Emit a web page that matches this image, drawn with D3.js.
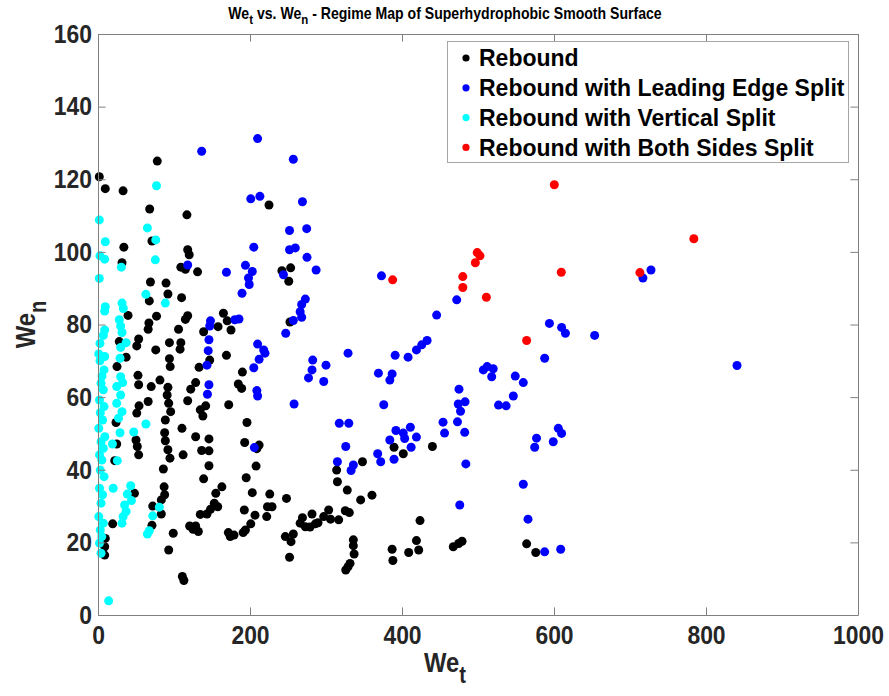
<!DOCTYPE html>
<html>
<head>
<meta charset="utf-8">
<script src="https://cdn.jsdelivr.net/npm/d3@7"></script>
<style>
html,body{margin:0;padding:0;background:#fff;}
svg{display:block;}
</style>
</head>
<body>
<svg id="chart" width="889" height="696"></svg>
<script>
// ---- data (We_t, We_n) ----
const seriesNames = ["Rebound","Rebound with Leading Edge Split","Rebound with Vertical Split","Rebound with Both Sides Split"];
const seriesColors = ["#000000","#0000ff","#00ffff","#ff0000"];
const xTicks = [0,200,400,600,800,1000];
const yTicks = [0,20,40,60,80,100,120,140,160];

const rebound = [
[1.7,120.7],[9.6,117.4],[33,116.8],[78,125],[68,111.8],[71,103],[34,101.3],[31.6,97],[109,95.8],[69,91.7],[89.5,91.4],[92,88.4],[67.5,86.5],[110,87.4],[39.5,82.5],[77,82.3],[67,80.4],[66,78.7],[106,78.7],[53.5,76],[51,74.1],[94,75],[109,75],[108,73.2],[76,73],[28,75.3],[37,71],[94,70.6],[95,68.4],[25,68.4],[52.6,66],[81.5,64.7],
[225,112.9],[117,110.2],[118,100.6],[120,99.2],[115,95.2],[131,94.5],[118,82.4],[115,81.4],[139,78],[165,83.1],[170,81],[158,79.4],[175,78.5],[147,70.2],[169,71.5],[133,68.2],[190,66.9],
[53.5,63.4],[70,62.9],[92,62.7],[91,60.6],[66,58.8],[93,58.3],[54,57.6],[95.6,56],[51,55.6],[23.7,53],[88.6,53.7],[110.5,51.4],[87.7,50.2],[50,48.2],[51.7,46.4],[88.6,48],[92,45.5],[53.5,44.1],[94.7,43.2],[112,44.1],[24.6,47.1],[22,42.5],[86,40.2],[87,35.3],[87.7,33.1],[83.3,31.7],[48,33.5],[72,30],[83.3,27.8],[71,24.7],[19.3,25.1],[99,22.5],[93,17.9],[9.6,21.1],[8.8,18.8],[8.8,16.5],[111,10.6],[113,9.5],
[128.5,64],[122,62.2],[118,59],[184.6,63.6],[189,62.4],[172,57.9],[141.7,57.6],[134.6,56.5],[138,54.8],[196,53],[128.5,49.1],[146,48.5],[136.4,45.3],[146,45.2],[193,47.5],[212,46.8],[209,45.8],[146,41.1],[208,41],[139,37.5],[195,37.8],[163,35.3],[155,33.5],[203,33.7],[226,33.3],[153,30.8],[157.5,29.8],[148,29.1],[143.4,27.8],[134.6,27.7],[192.5,28.9],[206.6,27.5],[223,29.8],[222,27.1],[201,25.1],[194,23.4],[191,22.7],[120.6,24.5],[128.5,24.5],[132,23],[125,23.6],[171.5,22.7],[174,21.6],[179,22],
[242,94.8],[253.5,95.6],[251,91.9],[252.6,80.7],
[389.5,46.2],[348,42.2],[314,39.9],[315,36.7],[328,34.4],[345.6,31.7],[360.5,33],[248,32.1],[229,29.8],[281.6,27.8],[269,26.8],[303.5,28.9],[297,27.1],[306,26.4],[316.7,26.2],[325.4,28.7],[330.7,28.2],[266,25.3],[272.8,24.3],[279,24.2],[286,25.1],[289.5,25.4],[246.5,21.6],[257,22.3],[254,20.2],[252,15.9],[336,20.7],[336,19.1],[337,16.8],[331.6,14.2],[326,12.4],[329,13.3],[387,18.1],[388,15],
[401.7,44.4],[440,46.4],[423.7,26],[419,20.5],[422,17.9],[408.8,17.2],[467.5,18.8],[474.6,19.7],[479,20.3],[564,19.6],[576,17.2]
];

const leadingEdge = [
[136.4,127.7],[210,131.2],[201,114.6],[213,115.3],[205,101.3],[118,96.4],[169,94.4],[194,96.3],[203,94.6],[198,92.8],[199,91],[189.5,88.6],[148,81],[147,79.6],[180,81.3],[185.5,81.5],[146,75.8],[145,72.8],[143.4,68.8],[210,74.6],[218,73],[219.7,72.1],[212,70.4],[205,68.1],
[146,63.4],[144,60.8],[209,61.8],[210,60.3],[205.7,46.1],
[257,125.5],[269,113.8],[252,105.9],[274.6,106.4],[252,100.6],[259.6,101.1],[275,98.5],[287,95],[244,93.7],[272.8,87],[268,85.5],[266,83.5],[268,82],[257,81.1],[247,77.6],[329,72.1],[282.5,70.2],[300,68.8],[281.6,67.5],[277,65.3],[297,64.3],
[258,58.1],[376,57.9],[317.5,52.8],[330,52.8],[392,50.8],[384,48.2],[326,46.4],[368,44.4],[372,42.2],[389.5,42.9],[315,42.2],[336,41.3],[333,39.8],
[373,93.4],[472,86.8],[445.6,82.6],[594,80.3],[433,75.6],[426,74.4],[419,73],[408,71],[391,71.5],[387,66.4],[384,64.7],[369,66.6],[587.7,70.7],[507,67.5],[512,68.4],[520,67.8],[518,65.6],[549,65.8],[559.6,64],[546.5,60.3],[527,57.8],[537,57.6],[475,62.2],[474,58.1],[483,58.7],[477,56.1],[454,53.1],[473,53.2],[456,50.1],[482.5,50.3],[411,51.7],[401.7,50.1],[403.5,48.6],[419,49],[412,46.2],[484,41.6],[577,48.7],[574.6,46.2],[599,47.7],[559.6,36],[476,30.3],[565.8,26.4],[587.7,17.4],
[727.6,95],[717,92.8],[610,79.2],[615,77.6],[653.5,77],[840.8,68.7],[605.7,51.4],[610,50],[608.8,18.1]
];

const verticalSplit = [
[77,118.2],[1.7,108.8],[65,106.6],[9.6,102.8],[76,103.3],[2.6,98.9],[8.8,98],[75.4,97.8],[30.7,95.8],[1.7,92.7],[63,88.3],[88.6,85.9],[31.6,85.9],[9.6,84.9],[33.3,84.4],[8.8,83.7],[28,81.3],[8.8,78.5],[29.8,79.6],[31.6,77.8],[7,77],[2.6,74.8],[37,75],[29.8,73.7],[1,71.9],[8.8,71.2],[29,70.7],[2.6,70],[7.9,67.5],[5.3,65.8],[29.8,65.6],
[32.5,64],[24.6,62.9],[29.8,60.6],[24.6,58.3],[31.6,56],[27,54.2],[29,50.2],[19,47.1],[25.4,42.5],[47,50.4],[63,52.6],[20,34.9],[43,35.6],[38.6,33.3],[44,31.5],[35,30.3],[37,28.5],[33,27.1],[31.6,25.3],[80.7,29.7],[72,27.3],[67.5,23.2],[65,22.3],[14,3.9],
[4,63.8],[7,62],[2,59.2],[8,57.4],[3,55.7],[6,53.7],[1,51.4],[9,49.1],[4,47.7],[7,45.9],[2,44.1],[5,42.7],[3,39.9],[8,38.1],[2,34.9],[6,33.1],[4,30.8],[1,27.1],[7,25.3],[3,23.4],[5,21.6],[2,19.8],[4,17]
];

const bothSides = [
[499,99.8],[502.6,98.9],[496.5,97],[387.7,92.3],[480,93.2],[480,90.2],[511,87.5],[609.6,94.4],[564,75.6],[600.4,118.5],[784,103.6],[713,94.3]
];

const allSeries = [rebound, leadingEdge, verticalSplit, bothSides];

// ---- layout ----
const svg = d3.select("#chart");
const L = 98, R = 858, T = 34, B = 615;
const x = d3.scaleLinear().domain([0,1000]).range([L,R]);
const y = d3.scaleLinear().domain([0,160]).range([B,T]);
const axisCol = "#808080", textCol = "#262626";
const FONT = "'Liberation Sans', Arial, Helvetica, sans-serif";
const tickLen = 7.6;
const tickFS = 26, tickSX = 0.88;

// points
allSeries.forEach((data,i) => {
  svg.append("g").selectAll("circle").data(data).join("circle")
    .attr("cx", d => x(d[0])).attr("cy", d => y(d[1]))
    .attr("r", 4.5).attr("fill", seriesColors[i]);
});

// axes
function styleAxis(g){
  g.select(".domain").attr("stroke", axisCol).attr("stroke-width", 1);
  g.selectAll(".tick line").attr("stroke", axisCol).attr("stroke-width", 1);
}
const gB = svg.append("g").attr("transform", `translate(0,${B})`)
  .call(d3.axisBottom(x).tickValues(xTicks).tickSize(-tickLen).tickSizeOuter(0).tickPadding(11).tickFormat(d3.format("d")));
styleAxis(gB);
gB.selectAll(".tick text").attr("fill", textCol).attr("font-family", FONT).attr("font-weight","bold")
  .attr("font-size", tickFS).attr("transform", `scale(${tickSX},1)`).attr("dy","0.71em");

const gT = svg.append("g").attr("transform", `translate(0,${T})`)
  .call(d3.axisTop(x).tickValues(xTicks).tickSize(-tickLen).tickSizeOuter(0).tickFormat(""));
styleAxis(gT);

const gL = svg.append("g").attr("transform", `translate(${L},0)`)
  .call(d3.axisLeft(y).tickValues(yTicks).tickSize(-tickLen).tickSizeOuter(0).tickPadding(7).tickFormat(d3.format("d")));
styleAxis(gL);
gL.selectAll(".tick text").attr("fill", textCol).attr("font-family", FONT).attr("font-weight","bold")
  .attr("font-size", tickFS).attr("x", -6/tickSX).attr("transform", `scale(${tickSX},1)`);

const gR = svg.append("g").attr("transform", `translate(${R},0)`)
  .call(d3.axisRight(y).tickValues(yTicks).tickSize(-tickLen).tickSizeOuter(0).tickFormat(""));
styleAxis(gR);

// title
const title = svg.append("text").attr("x", 0).attr("y", 0)
  .attr("transform", `translate(445,19) scale(0.88,1)`)
  .attr("text-anchor","middle").attr("font-family", FONT).attr("font-weight","bold")
  .attr("font-size", 16).attr("fill", "#000");
title.append("tspan").text("We");
title.append("tspan").text("t").attr("font-size", 13).attr("dy", 5);
title.append("tspan").text(" vs. We").attr("dy", -5);
title.append("tspan").text("n").attr("font-size", 13).attr("dy", 5);
title.append("tspan").text(" - Regime Map of Superhydrophobic Smooth Surface").attr("dy", -5);

// x label
const xl = svg.append("text").attr("transform", `translate(445,672) scale(0.88,1)`)
  .attr("text-anchor","middle").attr("font-family", FONT).attr("font-weight","bold")
  .attr("font-size", 27).attr("fill", textCol);
xl.append("tspan").text("We");
xl.append("tspan").text("t").attr("font-size", 23).attr("dy", 11);

// y label
const yl = svg.append("text").attr("transform", `translate(35,${(T+B)/2}) rotate(-90) scale(0.88,1)`)
  .attr("text-anchor","middle").attr("font-family", FONT).attr("font-weight","bold")
  .attr("font-size", 27).attr("fill", textCol);
yl.append("tspan").text("We");
yl.append("tspan").text("n").attr("font-size", 23).attr("dy", 11);

// legend
const lg = svg.append("g");
lg.append("rect").attr("x", 447.5).attr("y", 41.5).attr("width", 401).attr("height", 121)
  .attr("fill", "#fff").attr("stroke", "#a6a6a6").attr("stroke-width", 1);
seriesNames.forEach((name,i) => {
  const cy = 58 + i*29.8;
  lg.append("circle").attr("cx", 466).attr("cy", cy).attr("r", 3.6).attr("fill", seriesColors[i]);
  lg.append("text").attr("x", 479).attr("y", cy).attr("dy", "0.36em")
    .attr("font-family", FONT).attr("font-weight","bold").attr("font-size", 23).attr("fill", "#000").text(name);
});
</script>
</body>
</html>
